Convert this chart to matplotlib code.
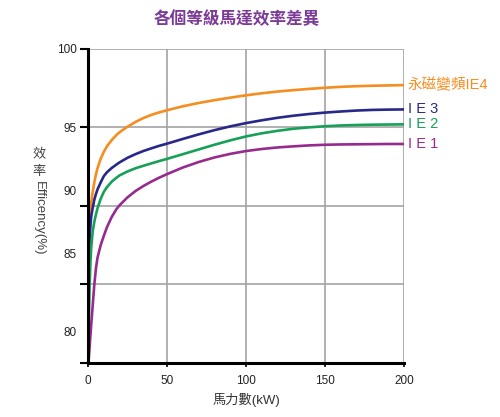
import matplotlib
matplotlib.use('Agg')
import matplotlib.pyplot as plt
import numpy as np

plt.rcParams['font.family'] = ['Liberation Sans', 'Noto Sans CJK TC', 'DejaVu Sans']

# 馬力數 (kW)
power = [0, 0.5, 1, 1.5, 2, 3, 4, 5, 6, 8, 10, 12, 15, 18, 20, 25, 30, 35, 40, 45,
         50, 60, 70, 80, 90, 100, 110, 120, 130, 140, 150, 160, 170, 180, 190, 200]

# 效率 (%)
eff_ie4 = [80, 87.5, 89.2, 89.8, 90.2, 90.9, 91.5, 92.0, 92.4, 93.0, 93.45, 93.8,
           94.2, 94.52, 94.7, 95.05, 95.35, 95.6, 95.8, 95.96,
           96.1, 96.35, 96.56, 96.74, 96.9, 97.05, 97.18, 97.29, 97.38, 97.46,
           97.53, 97.59, 97.63, 97.66, 97.68, 97.7]
eff_ie3 = [80, 85.5, 87.8, 88.7, 89.3, 89.9, 90.4, 90.75, 91.05, 91.5, 91.9, 92.15,
           92.42, 92.64, 92.78, 93.07, 93.3, 93.5, 93.67, 93.83,
           93.97, 94.27, 94.56, 94.83, 95.07, 95.28, 95.46, 95.62, 95.75, 95.86,
           95.95, 96.02, 96.08, 96.12, 96.14, 96.15]
eff_ie2 = [80, 82.5, 84.8, 86.3, 87.3, 88.4, 89.0, 89.45, 89.85, 90.45, 90.9, 91.2,
           91.55, 91.8, 91.95, 92.2, 92.4, 92.56, 92.71, 92.86,
           93.0, 93.3, 93.6, 93.9, 94.18, 94.43, 94.63, 94.79, 94.92, 95.01,
           95.08, 95.13, 95.16, 95.18, 95.19, 95.2]
eff_ie1 = [80, 80.3, 81.0, 81.7, 82.4, 83.7, 85.0, 86.0, 86.7, 87.5, 88.1, 88.65,
           89.3, 89.8, 90.05, 90.55, 90.95, 91.27, 91.55, 91.8,
           92.03, 92.45, 92.8, 93.09, 93.32, 93.5, 93.63, 93.73, 93.8, 93.86,
           93.9, 93.92, 93.93, 93.94, 93.95, 93.95]

series_names = ['永磁變頻IE4', 'I E 3', 'I E 2', 'I E 1']
series_vals = [eff_ie4, eff_ie3, eff_ie2, eff_ie1]
colors = ['#f58d1f', '#27288a', '#16a058', '#972a8f']

xticks = [0, 50, 100, 150, 200]
yticks = [80, 85, 90, 95, 100]
ytick_labels = ['80', '85', '90', '95', '100']
# the labels in the original sit off the grid lines
ytick_label_pos = [82.0, 86.95, 91.0, 95.0, 100.0]

fig = plt.figure(figsize=(5, 4.17), dpi=100)
ax = fig.add_axes([0.176, 0.1295, 0.632, 0.753])

for vals, c in zip(series_vals, colors):
    ax.plot(power, vals, color=c, lw=1.9, solid_capstyle='round',
            solid_joinstyle='round', zorder=3)

for name, vals, c in zip(series_names, series_vals, colors):
    ax.text(202.5, vals[-1], name, color=c, fontsize=10.5, va='center', ha='left',
            clip_on=False)

ax.set_xlim(0, 200)
ax.set_ylim(80, 100)
ax.set_xticks(xticks)
ax.set_xticklabels([str(v) for v in xticks])
ax.yaxis.remove_overlapping_locs = False
ax.set_yticks(yticks)
ax.set_yticklabels([])
ax.set_yticks(ytick_label_pos, minor=True)
ax.set_yticklabels(ytick_labels, minor=True)

ax.grid(True, which='major', color='#a3a3a3', lw=1.2, zorder=1)
ax.tick_params(axis='y', which='major', length=6, width=1.5, color='black')
ax.tick_params(axis='y', which='minor', length=0, pad=8, labelsize=8.5, labelcolor='#222222')
ax.tick_params(axis='x', length=3, width=1.2, pad=6, labelsize=8.5, labelcolor='#222222')

for s in ['top', 'right']:
    ax.spines[s].set_visible(False)
ax.spines['left'].set_linewidth(2.2)
ax.spines['bottom'].set_linewidth(2.2)
ax.spines['left'].set_zorder(4)

fig.text(0.474, 0.956, '各個等級馬達效率差異', color='#7b3a96', fontsize=12,
         fontweight='bold', ha='center', va='center')
fig.text(0.492, 0.04, '馬力數(kW)', color='#333333', fontsize=9.5, ha='center', va='center')
fig.text(0.078, 0.628, '效', color='#444444', fontsize=9.5, ha='center', va='center')
fig.text(0.078, 0.588, '率', color='#444444', fontsize=9.5, ha='center', va='center')
fig.text(0.078, 0.477, 'Efficency(%)', color='#444444', fontsize=9.5, rotation=270,
         ha='center', va='center')

fig.savefig('out.png', dpi=100)
